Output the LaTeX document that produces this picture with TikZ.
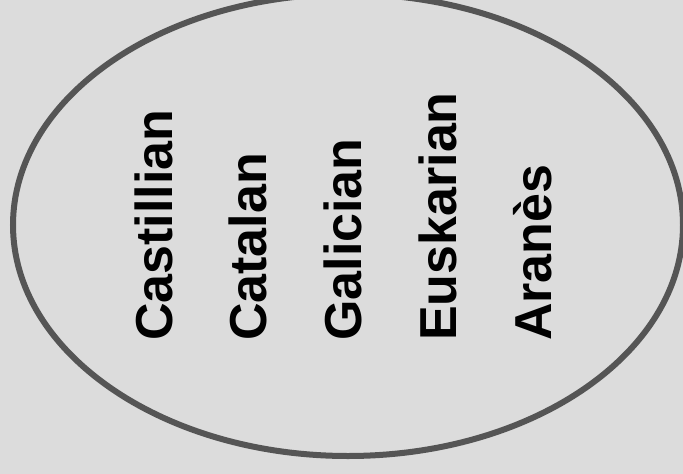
\documentclass[tikz,border=0pt]{standalone}
\usepackage{fontspec}
\setsansfont{Liberation Sans}
\definecolor{bggray}{HTML}{DCDCDC}
\definecolor{ringgray}{HTML}{555555}
\tikzset{
  lang/.style={rotate=90, anchor=base west, inner sep=0pt, text=black,
    font=\sffamily\bfseries\fontsize{52}{52}\selectfont},
  ring/.style={draw=ringgray, line width=6pt}
}
\begin{document}
\begin{tikzpicture}[x=1pt,y=-1pt]
\useasboundingbox (0,0) rectangle (683,474);
\fill[bggray] (0,0) rectangle (683,474);
\clip (0,0) rectangle (683,474);
\draw[ring] (348,225) ellipse [x radius=335pt, y radius=231pt];
\node[lang] (castillian) at (172.5,341) {Castillian};
\node[lang] (catalan) at (266.5,341) {Catalan};
\node[lang] (galician) at (361.5,341) {Galician};
\node[lang] (euskarian) at (456.5,341) {Euskarian};
\node[lang] (aranes) at (551.5,341) {Aranès};
\end{tikzpicture}
\end{document}
